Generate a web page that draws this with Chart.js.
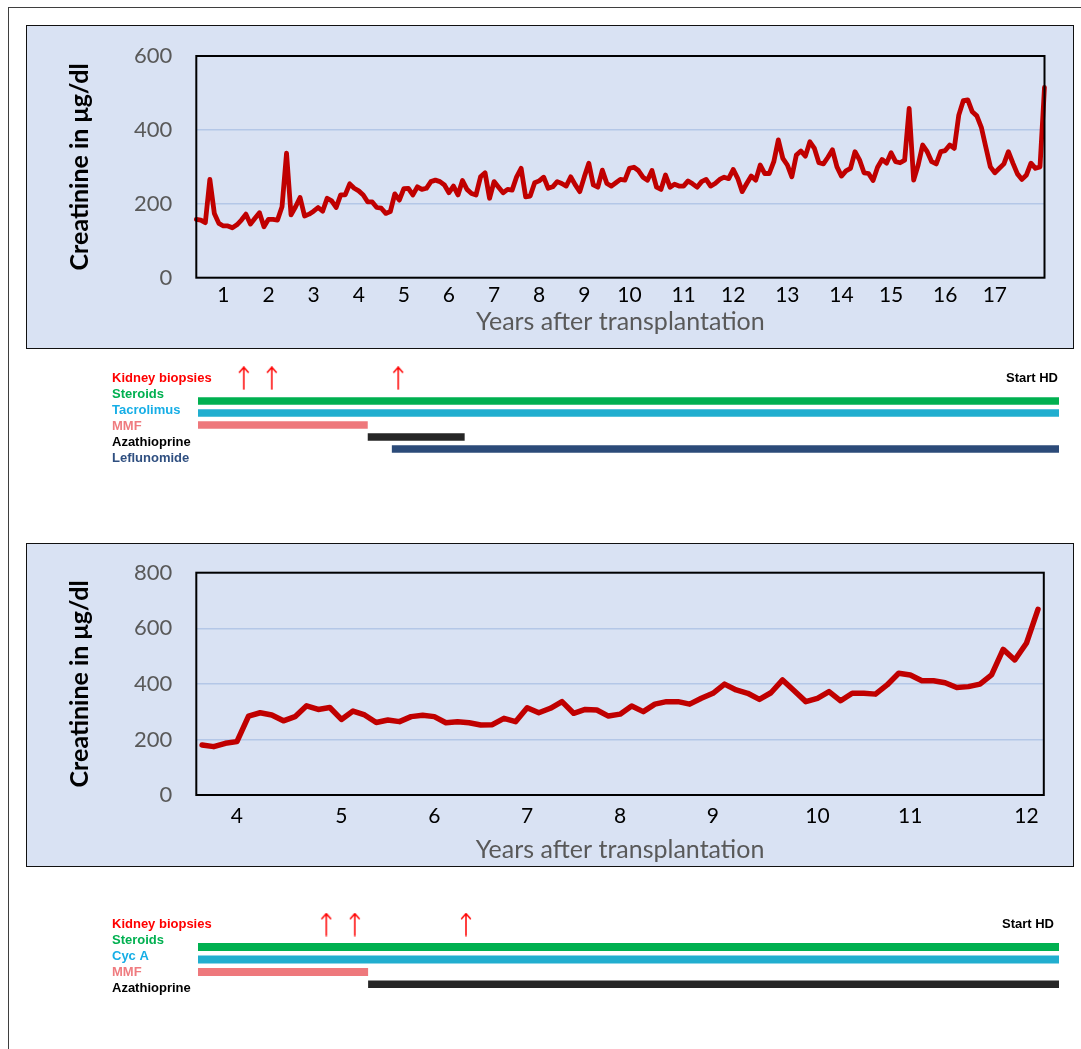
<!DOCTYPE html>
<html>
<head>
<meta charset="utf-8">
<title>Creatinine after transplantation</title>
<script src="https://cdn.jsdelivr.net/npm/chart.js@4.4.1/dist/chart.umd.min.js"></script>
<style>
  html, body { margin: 0; padding: 0; background: #fff; }
  body { width: 1081px; height: 1049px; position: relative; overflow: hidden; }
  .frame { position: absolute; left: 8px; top: 7px; width: 1200px; height: 1200px;
           border-top: 1px solid #3f3f3f; border-left: 1px solid #3f3f3f; }
  .panel { position: absolute; left: 26px; width: 1048px; height: 324px; box-sizing: border-box;
           background: #d9e2f3; border: 1.5px solid #111; }
  canvas { position: absolute; }
</style>
</head>
<body>
<div class="frame"></div>
<div class="panel" style="top:25px"></div>
<div class="panel" style="top:543px"></div>
<canvas id="creat1" width="1048" height="324" style="left:26px;top:25px"></canvas>
<canvas id="therapy1" width="969" height="120" style="left:112px;top:355px"></canvas>
<canvas id="creat2" width="1048" height="324" style="left:26px;top:543px"></canvas>
<canvas id="therapy2" width="969" height="120" style="left:112px;top:895px"></canvas>
<script>
"use strict";

// ---- data: patient 1 (upper chart) ----
const creatinine1 = [
    158, 156, 149, 266, 174, 147, 140, 140, 135, 143,
    156, 172, 145, 161, 176, 138, 158, 158, 156, 192,
    337, 170, 192, 217, 167, 172, 180, 190, 180, 215,
    208, 190, 224, 224, 254, 242, 235, 224, 205, 205,
    190, 188, 174, 179, 227, 210, 241, 242, 224, 246,
    239, 242, 260, 264, 260, 251, 230, 248, 224, 263,
    239, 228, 224, 273, 284, 215, 260, 245, 230, 239,
    237, 273, 296, 219, 221, 257, 262, 272, 242, 246,
    260, 255, 248, 273, 251, 233, 273, 310, 251, 245,
    291, 255, 248, 257, 266, 264, 296, 299, 290, 272,
    264, 290, 245, 239, 278, 245, 253, 248, 248, 262,
    254, 245, 260, 266, 248, 255, 266, 272, 268, 293,
    269, 233, 255, 275, 264, 305, 282, 282, 314, 373,
    323, 305, 273, 332, 343, 329, 368, 350, 311, 308,
    326, 346, 300, 275, 289, 296, 341, 319, 284, 282,
    263, 299, 320, 310, 338, 314, 311, 318, 458, 264,
    305, 359, 341, 314, 308, 341, 344, 359, 350, 440,
    479, 481, 449, 438, 407, 353, 300, 284, 296, 308,
    341, 310, 281, 266, 278, 310, 296, 300, 515
];
const yearTickIndex1 = [6, 16, 26, 36, 46, 56, 66, 76, 86, 96, 108, 119, 131, 143, 154, 166, 177];
const yearTickText1 = ["1", "2", "3", "4", "5", "6", "7", "8", "9", "10", "11", "12", "13", "14", "15", "16", "17"];

const therapyRows1 = ["Kidney biopsies", "Steroids", "Tacrolimus", "MMF", "Azathioprine", "Leflunomide"];
const therapyStart1 = [0.5, 0.5, 0.5, 3.95, 4.44];
const therapyEnd1 = [18, 18, 3.95, 5.92, 18];
const biopsyYears1 = [1.43, 2.0, 4.57];

// ---- data: patient 2 (lower chart) ----
const creatinine2 = [
    180, 174, 186, 192, 284, 296, 288, 267, 282, 321,
    308, 315, 272, 302, 288, 261, 270, 264, 282, 287,
    282, 260, 264, 260, 252, 253, 276, 264, 314, 296,
    312, 336, 294, 308, 306, 284, 291, 320, 300, 327,
    336, 336, 327, 348, 366, 399, 378, 366, 344, 368,
    414, 375, 336, 348, 372, 339, 366, 366, 363, 396,
    438, 432, 411, 411, 404, 387, 390, 399, 432, 524,
    486, 546, 668
];
const yearTickIndex2 = [3, 12, 20, 28, 36, 44, 53, 61, 71];
const yearTickText2 = ["4", "5", "6", "7", "8", "9", "10", "11", "12"];

const therapyRows2 = ["Kidney biopsies", "Steroids", "Cyc A", "MMF", "Azathioprine"];
const therapyStart2 = [3.6, 3.6, 3.6, 5.39];
const therapyEnd2 = [12.66, 12.66, 5.39, 12.67];
const biopsyYears2 = [4.95, 5.25, 6.42];

// ---- styles ----
const FONT = "Lato, 'Open Sans', sans-serif";
const LABEL_FONT = "'Liberation Sans', Arial, sans-serif";
const rowTextColors = {
    "Kidney biopsies": "#ff0000",
    "Steroids": "#00b050",
    "Tacrolimus": "#16aee6",
    "Cyc A": "#16aee6",
    "MMF": "#ef7b7f",
    "Azathioprine": "#000000",
    "Leflunomide": "#2f4f80"
};
const barColors = {
    "Steroids": "#00b050",
    "Tacrolimus": "#21aecf",
    "Cyc A": "#21aecf",
    "MMF": "#ee787c",
    "Azathioprine": "#262626",
    "Leflunomide": "#2c4b79"
};

/** black frame around the plot area (Excel style) */
const plotFramePlugin = {
    id: "plotFrame",
    afterDraw(chart) {
        const { ctx, chartArea: a } = chart;
        ctx.save();
        ctx.strokeStyle = "#000";
        ctx.lineWidth = 2;
        ctx.strokeRect(a.left, a.top, a.right - a.left, a.bottom - a.top);
        ctx.restore();
    }
};

/** creatinine line chart, year labels only at some categories */
function makeCreatinineChart(canvasId, values, tickIndex, tickText, yMax, o) {
    const labels = values.map(() => "");
    tickIndex.forEach((idx, k) => { labels[idx] = tickText[k]; });

    return new Chart(document.getElementById(canvasId), {
        type: "line",
        data: {
            labels: labels,
            datasets: [{
                data: values,
                borderColor: "#c00000",
                borderWidth: o.lineWidth,
                borderJoinStyle: "round",
                borderCapStyle: "round",
                pointRadius: 0,
                tension: 0
            }]
        },
        options: {
            responsive: false,
            animation: false,
            layout: { padding: { top: o.top, right: o.right, left: 0, bottom: 0 } },
            plugins: { legend: { display: false }, tooltip: { enabled: false } },
            scales: {
                x: {
                    offset: o.offset,
                    grid: { display: false, drawTicks: false },
                    border: { display: false },
                    ticks: {
                        autoSkip: false, maxRotation: 0, minRotation: 0,
                        padding: o.xTickPad, color: "#000",
                        font: { family: FONT, size: 21 }
                    },
                    title: {
                        display: true, text: "Years after transplantation", color: "#595959",
                        font: { family: FONT, size: 25, lineHeight: 1 },
                        padding: { top: 0, bottom: o.xTitlePad }
                    },
                    afterFit: (s) => { s.height = o.xAxisH; }
                },
                y: {
                    min: 0,
                    max: yMax,
                    ticks: { stepSize: 200, padding: 24, color: "#595959", font: { family: FONT, size: 22 } },
                    grid: { color: "#b4c7e7", lineWidth: 1.5, drawTicks: false },
                    border: { display: false },
                    title: {
                        display: true, text: "Creatinine in μg/dl", color: "#000",
                        font: { family: FONT, size: 25, weight: "bold", lineHeight: 1 },
                        padding: { top: 41.5, bottom: 0 }
                    },
                    afterFit: (s) => {
                        // fixed axis width, and no extra room for the top label
                        s.width = 170.3;
                        s.paddingTop = 0;
                        s.paddingBottom = 0;
                    }
                }
            }
        },
        plugins: [plotFramePlugin]
    });
}

/** small red up-arrow used as point style for biopsies */
function makeArrow(color) {
    const c = document.createElement("canvas");
    c.width = 12;
    c.height = 24;
    const g = c.getContext("2d");
    g.strokeStyle = color;
    g.lineWidth = 1.5;
    g.beginPath();
    g.moveTo(6, 23.5);
    g.lineTo(6, 1);
    g.moveTo(1.2, 6.5);
    g.lineTo(6, 1);
    g.lineTo(10.8, 6.5);
    g.stroke();
    return c;
}

/** therapy time line: label rows on the left, drug bars, biopsy arrows */
function makeTherapyChart(canvasId, rows, starts, ends, biopsies, o) {
    const drugs = rows.slice(1);
    const datasets = drugs.map((name, j) => ({
        data: [{ x: starts[j], y: j + 1 }, { x: ends[j], y: j + 1 }],
        yAxisID: "yb",
        showLine: true,
        borderColor: barColors[name],
        borderWidth: o.barWidth,
        borderCapStyle: "butt",
        pointRadius: 0
    }));
    datasets.push({
        data: biopsies.map((t) => ({ x: t, y: rows[0] })),
        yAxisID: "yl",
        pointStyle: makeArrow("#ff0000"),
        pointRadius: 6,
        clip: false
    });

    const rightLabels = rows.map((r, i) => (i === 0 ? "Start HD" : ""));
    const labelFont = { family: LABEL_FONT, size: 13, weight: "bold" };

    return new Chart(document.getElementById(canvasId), {
        type: "scatter",
        data: { datasets: datasets },
        options: {
            responsive: false,
            animation: false,
            layout: { padding: { top: o.top, bottom: o.bottom, left: 86, right: o.right } },
            plugins: { legend: { display: false }, tooltip: { enabled: false } },
            scales: {
                x: { type: "linear", display: false, min: o.xMin, max: o.xMax },
                yb: { type: "linear", display: false, reverse: true, min: o.laneMin, max: o.laneMax },
                yl: {
                    type: "category",
                    position: "left",
                    labels: rows,
                    offset: false,
                    grid: { display: false, drawTicks: false },
                    border: { display: false },
                    ticks: {
                        autoSkip: false,
                        mirror: true,
                        padding: -86,
                        color: (c) => rowTextColors[rows[c.index]],
                        font: labelFont
                    },
                    afterFit: (s) => { s.width = 0; }
                },
                yr: {
                    type: "category",
                    position: "right",
                    labels: rightLabels,
                    offset: false,
                    grid: { display: false, drawTicks: false },
                    border: { display: false },
                    ticks: {
                        autoSkip: false,
                        mirror: true,
                        padding: o.hdPad,
                        color: "#000",
                        font: labelFont
                    },
                    afterFit: (s) => { s.width = 0; }
                }
            }
        }
    });
}

makeCreatinineChart("creat1", creatinine1, yearTickIndex1, yearTickText1, 600, {
    lineWidth: 4.8, offset: false, top: 31, right: 29.5,
    xTickPad: 4.7, xTitlePad: 14.5, xAxisH: 71.3
});
makeCreatinineChart("creat2", creatinine2, yearTickIndex2, yearTickText2, 800, {
    lineWidth: 5.5, offset: true, top: 29.7, right: 30.2,
    xTickPad: 9.1, xTitlePad: 4.9, xAxisH: 72
});

makeTherapyChart("therapy1", therapyRows1, therapyStart1, therapyEnd1, biopsyYears1, {
    top: 23.2, bottom: 16.8, right: 22, xMin: 0.5, xMax: 18,
    laneMin: -0.9, laneMax: 5.767, barWidth: 7.5, hdPad: -1
});
makeTherapyChart("therapy2", therapyRows2, therapyStart2, therapyEnd2, biopsyYears2, {
    top: 29.6, bottom: 27, right: 22, xMin: 3.6, xMax: 12.66,
    laneMin: -0.792, laneMax: 4.28, barWidth: 8, hdPad: -5
});
</script>
</body>
</html>
